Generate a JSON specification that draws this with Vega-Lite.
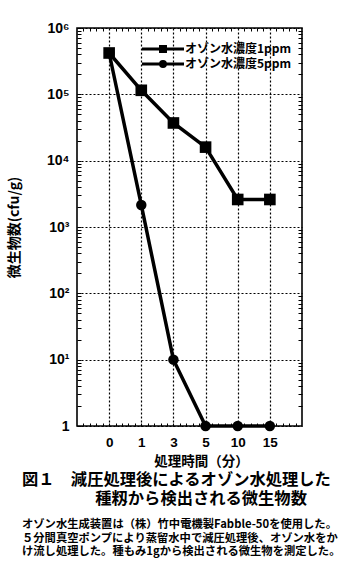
{
  "$schema": "https://vega.github.io/schema/vega-lite/v6.json",
  "width": 225,
  "height": 398,
  "autosize": {"type": "none"},
  "padding": {"left": 77, "top": 28, "right": 62, "bottom": 151},
  "background": "white",
  "config": {
    "view": {"stroke": "black", "strokeWidth": 1.6},
    "axis": {"domain": false, "labelColor": "black", "titleColor": "black", "tickColor": "black"}
  },
  "title": {
    "text": ["図１　減圧処理後によるオゾン水処理した", "\u200b　　　　\u2002種籾から検出される微生物数"],
    "subtitle": ["オゾン水生成装置は（株）竹中電機製Fabble-50を使用した。", "５分間真空ポンプにより蒸留水中で減圧処理後、オゾン水をか", "け流し処理した。種もみ1gから検出される微生物を測定した。"],
    "orient": "bottom",
    "anchor": "start",
    "frame": "group",
    "dx": -55,
    "offset": 4,
    "font": "Noto Sans CJK JP",
    "fontSize": 16.3,
    "fontWeight": "bold",
    "lineHeight": 19,
    "color": "black",
    "subtitleFont": "Noto Sans CJK JP",
    "subtitleFontSize": 11.3,
    "subtitleFontWeight": "bold",
    "subtitleLineHeight": 13.3,
    "subtitleColor": "black",
    "subtitlePadding": 12
  },
  "data": {
    "values": [
      {"time": 0, "series": "オゾン水濃度1ppm", "cfu": 420000},
      {"time": 1, "series": "オゾン水濃度1ppm", "cfu": 115000},
      {"time": 3, "series": "オゾン水濃度1ppm", "cfu": 37000},
      {"time": 5, "series": "オゾン水濃度1ppm", "cfu": 16000},
      {"time": 10, "series": "オゾン水濃度1ppm", "cfu": 2600},
      {"time": 15, "series": "オゾン水濃度1ppm", "cfu": 2600},
      {"time": 0, "series": "オゾン水濃度5ppm", "cfu": 420000},
      {"time": 1, "series": "オゾン水濃度5ppm", "cfu": 2150},
      {"time": 3, "series": "オゾン水濃度5ppm", "cfu": 10},
      {"time": 5, "series": "オゾン水濃度5ppm", "cfu": 1},
      {"time": 10, "series": "オゾン水濃度5ppm", "cfu": 1},
      {"time": 15, "series": "オゾン水濃度5ppm", "cfu": 1}
    ]
  },
  "resolve": {"axis": {"x": "independent", "y": "independent"}},
  "layer": [
    {
      "mark": {"type": "line", "stroke": "black", "strokeWidth": 3.5, "clip": false},
      "encoding": {
        "x": {
          "field": "time", "type": "quantitative",
          "scale": {"domain": [-1, 0, 1, 3, 5, 10, 15, 20], "range": [0, {"expr": "width/7"}, {"expr": "2*width/7"}, {"expr": "3*width/7"}, {"expr": "4*width/7"}, {"expr": "5*width/7"}, {"expr": "6*width/7"}, {"expr": "width"}], "nice": false, "zero": false},
          "axis": {
            "orient": "bottom", "title": "処理時間（分）",
            "values": [-0.8, -0.6, -0.4, -0.2, 0, 0.2, 0.4, 0.6, 0.8, 1, 1.4, 1.8, 2.2, 2.6, 3, 3.4, 3.8, 4.2, 4.6, 5, 6, 7, 8, 9, 10, 11, 12, 13, 14, 15, 16, 17, 18, 19],
            "labelExpr": "indexof([0, 1, 3, 5, 10, 15], datum.value) >= 0 ? format(datum.value, 'd') : ''",
            "ticks": true, "tickSize": 3, "tickWidth": 1, "offset": -3,
            "grid": true, "gridDash": [2, 2], "gridColor": "black", "gridWidth": 1.2,
            "gridOpacity": {"condition": {"test": "indexof([0, 1, 3, 5, 10, 15], datum.value) >= 0", "value": 1}, "value": 0},
            "labelFont": "Liberation Sans", "labelFontSize": 13.5, "labelFontWeight": "bold", "labelPadding": 9, "labelFlush": false, "labelOverlap": false, "labelBound": false,
            "titleFont": "Noto Sans CJK JP", "titleFontSize": 13.5, "titleFontWeight": "bold", "titlePadding": 6, "titleX": 124
          }
        },
        "y": {
          "field": "cfu", "type": "quantitative",
          "scale": {"type": "log", "domain": [1, 1000000], "nice": false},
          "axis": {
            "orient": "left", "title": "微生物数(cfu/g)",
            "values": [1,2,3,4,5,6,7,8,9,10,20,30,40,50,60,70,80,90,100,200,300,400,500,600,700,800,900,1000,2000,3000,4000,5000,6000,7000,8000,9000,10000,20000,30000,40000,50000,60000,70000,80000,90000,100000,200000,300000,400000,500000,600000,700000,800000,900000,1000000],
            "labelExpr": "datum.value == 1 ? '1' : datum.value == 10 ? '10¹' : datum.value == 100 ? '10²' : datum.value == 1000 ? '10³' : datum.value == 10000 ? '10⁴' : datum.value == 100000 ? '10⁵' : datum.value == 1000000 ? '10⁶' : ''",
            "labelOverlap": false, "labelFlush": false, "labelBound": false,
            "ticks": true, "tickSize": 4, "tickWidth": 1, "offset": -4,
            "grid": true, "gridDash": [2, 2], "gridColor": "black", "gridWidth": 1.2,
            "gridOpacity": {"condition": {"test": "indexof([1, 10, 100, 1000, 10000, 100000, 1000000], datum.value) >= 0", "value": 1}, "value": 0},
            "labelFont": "Liberation Sans", "labelFontSize": 14, "labelFontWeight": "bold", "labelPadding": 8,
            "titleFont": "Noto Sans CJK JP", "titleFontSize": 14, "titleFontWeight": "bold", "titlePadding": 25
          }
        },
        "detail": {"field": "series"}
      }
    },
    {
      "transform": [{"filter": "datum.series === 'オゾン水濃度1ppm'"}],
      "mark": {"type": "point", "shape": "square", "filled": true, "opacity": 1, "color": "black", "size": 135, "clip": false},
      "encoding": {
        "x": {
          "field": "time", "type": "quantitative",
          "scale": {"domain": [-1, 0, 1, 3, 5, 10, 15, 20], "range": [0, {"expr": "width/7"}, {"expr": "2*width/7"}, {"expr": "3*width/7"}, {"expr": "4*width/7"}, {"expr": "5*width/7"}, {"expr": "6*width/7"}, {"expr": "width"}], "nice": false, "zero": false},
          "axis": null
        },
        "y": {"field": "cfu", "type": "quantitative", "scale": {"type": "log", "domain": [1, 1000000], "nice": false}, "axis": null}
      }
    },
    {
      "transform": [{"filter": "datum.series === 'オゾン水濃度5ppm'"}],
      "mark": {"type": "point", "shape": "circle", "filled": true, "opacity": 1, "color": "black", "size": 110, "clip": false},
      "encoding": {
        "x": {
          "field": "time", "type": "quantitative",
          "scale": {"domain": [-1, 0, 1, 3, 5, 10, 15, 20], "range": [0, {"expr": "width/7"}, {"expr": "2*width/7"}, {"expr": "3*width/7"}, {"expr": "4*width/7"}, {"expr": "5*width/7"}, {"expr": "6*width/7"}, {"expr": "width"}], "nice": false, "zero": false},
          "axis": {"orient": "top", "title": null, "labels": false, "grid": false, "ticks": true, "tickSize": 3, "tickWidth": 1, "offset": -3,
            "values": [-0.8, -0.6, -0.4, -0.2, 0.2, 0.4, 0.6, 0.8, 1.4, 1.8, 2.2, 2.6, 3.4, 3.8, 4.2, 4.6, 6, 7, 8, 9, 11, 12, 13, 14, 16, 17, 18, 19]}
        },
        "y": {
          "field": "cfu", "type": "quantitative",
          "scale": {"type": "log", "domain": [1, 1000000], "nice": false},
          "axis": {"orient": "right", "title": null, "labels": false, "grid": false, "ticks": true, "tickSize": 4, "tickWidth": 1, "offset": -4,
            "values": [2,3,4,5,6,7,8,9,20,30,40,50,60,70,80,90,200,300,400,500,600,700,800,900,2000,3000,4000,5000,6000,7000,8000,9000,20000,30000,40000,50000,60000,70000,80000,90000,200000,300000,400000,500000,600000,700000,800000,900000]}
        }
      }
    },
    {
      "mark": {"type": "point", "opacity": 0, "color": "black"},
      "encoding": {
        "x": {
          "field": "time", "type": "quantitative",
          "scale": {"domain": [-1, 0, 1, 3, 5, 10, 15, 20], "range": [0, {"expr": "width/7"}, {"expr": "2*width/7"}, {"expr": "3*width/7"}, {"expr": "4*width/7"}, {"expr": "5*width/7"}, {"expr": "6*width/7"}, {"expr": "width"}], "nice": false, "zero": false},
          "axis": null
        },
        "y": {"field": "cfu", "type": "quantitative", "scale": {"type": "log", "domain": [1, 1000000], "nice": false}, "axis": null},
        "shape": {
          "field": "series", "type": "nominal",
          "scale": {"domain": ["オゾン水濃度1ppm", "オゾン水濃度5ppm"], "range": ["M-5.25,0L5.25,0M-0.62,-0.62L0.62,-0.62L0.62,0.62L-0.62,0.62Z", "M-5.25,0L5.25,0M-0.62,0A0.62,0.62,0,1,0,0.62,0A0.62,0.62,0,1,0,-0.62,0Z"]},
          "legend": {
            "title": null, "orient": "none", "legendX": 80, "legendY": 15, "padding": 0, "rowPadding": -6,
            "labelOffset": 16, "symbolSize": 64, "symbolStrokeWidth": 3, "symbolStrokeColor": "black", "symbolFillColor": "black", "symbolOpacity": 1,
            "labelFont": "Noto Sans CJK JP", "labelFontSize": 12, "labelFontWeight": "bold", "labelColor": "black", "labelLimit": 0
          }
        }
      }
    }
  ]
}
